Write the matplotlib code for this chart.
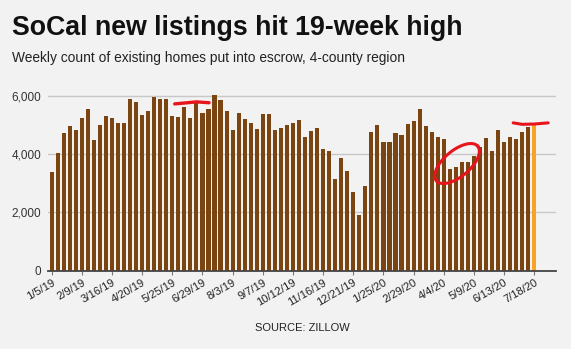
import numpy as np
import matplotlib
matplotlib.use("Agg")
import matplotlib.pyplot as plt

# Weekly new escrows, 4-county SoCal region, week ending 1/5/19 through 7/18/20
new_listings = [
    3370, 4030, 4730, 4960, 4830, 5230, 5530, 4490, 4990, 5290,
    5220, 5060, 5060, 5890, 5800, 5340, 5460, 5950, 5890, 5890,
    5290, 5260, 5610, 5220, 5780, 5410, 5540, 6010, 5850, 5490,
    4830, 5420, 5190, 5050, 4870, 5380, 5380, 4830, 4900, 4990,
    5050, 5170, 4590, 4800, 4900, 4160, 4100, 3130, 3870, 3420,
    2710, 1910, 2910, 4770, 4990, 4420, 4400, 4730, 4670, 5030,
    5120, 5530, 4950, 4760, 4570, 4530, 3500, 3540, 3740, 3740,
    3950, 4250, 4540, 4120, 4830, 4420, 4570, 4510, 4760, 4920,
    5020,
]
tick_labels = [
    "1/5/19", "2/9/19", "3/16/19", "4/20/19", "5/25/19", "6/29/19",
    "8/3/19", "9/7/19", "10/12/19", "11/16/19", "12/21/19", "1/25/20",
    "2/29/20", "4/4/20", "5/9/20", "6/13/20", "7/18/20",
]
y_ticks = [0, 2000, 4000, 6000]

BG = "#f2f2f2"
BROWN = "#7a4510"
ORANGE = "#f7a325"
RED = "#e8141c"

plt.rcParams["font.family"] = ["Liberation Sans", "DejaVu Sans"]

W, H = 571, 349
fig = plt.figure(figsize=(W / 100, H / 100), dpi=100, facecolor=BG)
ax = fig.add_axes([48 / W, 1 - 270.7 / H, 508 / W, (270.7 - 87) / H], facecolor=BG)

x = np.arange(len(new_listings))
colors = [BROWN] * (len(new_listings) - 1) + [ORANGE]
ax.bar(x, new_listings, width=0.68, color=colors, zorder=3)

ax.set_xlim(-0.6, len(new_listings) - 1 + 3.6)
ax.set_ylim(0, 6300)

ax.set_yticks(y_ticks)
ax.set_yticklabels([f"{v:,}" for v in y_ticks])
ax.tick_params(axis="y", length=0, pad=5, labelsize=8.5, labelcolor="#333333")
ax.grid(axis="y", color="#c8c8c8", linewidth=1.0, zorder=0)

ax.set_xticks(x[::5])
ax.set_xticklabels(tick_labels, rotation=30, ha="right", rotation_mode="anchor")
ax.tick_params(axis="x", length=3, width=0.8, color="#777777", pad=2,
               labelsize=8, labelcolor="#222222")

for side in ("top", "right", "left"):
    ax.spines[side].set_visible(False)
ax.spines["bottom"].set_color("#444444")
ax.spines["bottom"].set_linewidth(1.3)
ax.spines["bottom"].set_zorder(4)

# Hand-drawn red highlights
ax.plot([20.4, 22.5, 24.0, 26.1], [5720, 5760, 5790, 5760], color=RED,
        lw=2.4, solid_capstyle="round", zorder=5)
ax.plot([76.5, 78.0, 80.0, 82.3], [5070, 5020, 5030, 5070], color=RED,
        lw=2.2, solid_capstyle="round", zorder=5)

# Tilted loop around the spring 2020 dip, built in pixel units then mapped to data
px_per_x = 508 / (len(new_listings) - 1 + 3.6 + 0.6)
px_per_y = (270.7 - 87) / 6300
t = np.linspace(0, 2 * np.pi, 200)
a, b, ang = 27.0, 13.0, np.deg2rad(40)
ex = a * np.cos(t) * np.cos(ang) - b * np.sin(t) * np.sin(ang)
ey = a * np.cos(t) * np.sin(ang) + b * np.sin(t) * np.cos(ang)
ax.plot(67.2 + ex / px_per_x, 3675 + ey / px_per_y, color=RED, lw=2.2, zorder=5)

fig.text(12 / W, 1 - 28 / H, "SoCal new listings hit 19-week high",
         fontsize=19.3, fontweight="bold", va="center", ha="left", color="#111111")
fig.text(12 / W, 1 - 58 / H, "Weekly count of existing homes put into escrow, 4-county region",
         fontsize=9.9, va="center", ha="left", color="#222222")
fig.text(302 / W, 1 - 328 / H, "SOURCE: ZILLOW", fontsize=8, ha="center",
         va="center", color="#222222")

fig.savefig("out.png", dpi=100, facecolor=BG)
